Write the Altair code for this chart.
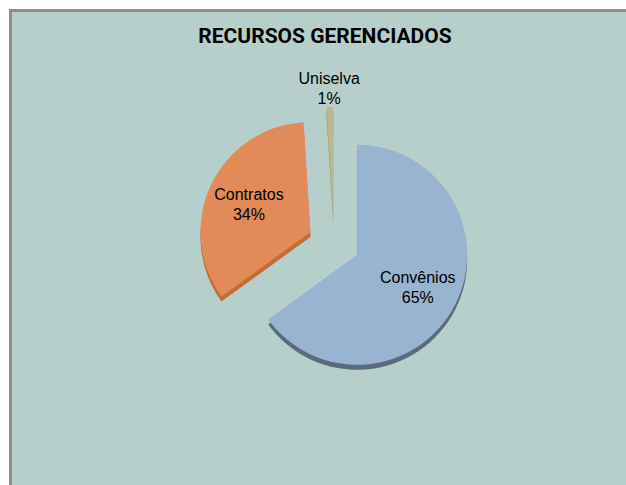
import altair as alt
import pandas as pd

# ---- data ----
categorias = ["Convênios", "Contratos", "Uniselva"]
valores = [65, 34, 1]

# ---- style ----
cores = ["#98b4d1", "#e28b58", "#bab88f"]
cores_lado = ["#5a6b80", "#c46c38", "#8f8d68"]
FUNDO = "#b6cfca"
BORDA = "#8e8e8e"
W, H = 626, 485
CX, CY = 334, 243      # pie centre (px)
R = 110                # pie radius
EXPLODE = 26           # explosion distance
DEPTH = 5              # 3D side thickness
LAB_IN = 68
LAB_OUT = R + 20

df = pd.DataFrame({"categoria": categorias, "valor": valores})

base = (
    alt.Chart(df)
    .transform_window(idx="row_number()")
    .transform_joinaggregate(total="sum(valor)")
    .transform_window(cum="sum(valor)", sort=[alt.SortField("idx")], frame=[None, 0])
    .transform_calculate(
        t1="2*PI*datum.cum/datum.total",
        t0="2*PI*(datum.cum-datum.valor)/datum.total",
    )
    .transform_calculate(mid="(datum.t0+datum.t1)/2")
    .transform_calculate(
        cx=f"{CX}+{EXPLODE}*sin(datum.mid)",
        cy=f"{CY}-{EXPLODE}*cos(datum.mid)",
    )
    .transform_calculate(
        cys=f"datum.cy+{DEPTH}",
        lr=f"datum.valor/datum.total < 0.05 ? {LAB_OUT} : {LAB_IN}",
        rotulo="datum.categoria + '\\n' + datum.valor + '%'",
    )
    .transform_calculate(
        lx="datum.cx + datum.lr*sin(datum.mid)",
        ly="datum.cy - datum.lr*cos(datum.mid)",
    )
)

fundo = alt.Chart(pd.DataFrame({"k": [0]})).mark_rect(
    fill=FUNDO, stroke=BORDA, strokeWidth=3, clip=True
).encode(
    x=alt.value(10.5), x2=alt.value(W + 20),
    y=alt.value(10.5), y2=alt.value(H + 20),
)

lado = base.mark_arc(radius=R, stroke=None).encode(
    x=alt.X("cx:Q", scale=None, axis=None),
    y=alt.Y("cys:Q", scale=None, axis=None),
    theta=alt.Theta("t0:Q", scale=None),
    theta2="t1:Q",
    color=alt.Color("categoria:N", scale=alt.Scale(domain=categorias, range=cores_lado), legend=None),
)

topo = base.mark_arc(radius=R, stroke=None).encode(
    x=alt.X("cx:Q", scale=None, axis=None),
    y=alt.Y("cy:Q", scale=None, axis=None),
    theta=alt.Theta("t0:Q", scale=None),
    theta2="t1:Q",
    fill=alt.Fill("categoria:N", scale=alt.Scale(domain=categorias, range=cores), legend=None),
)

rotulos = base.mark_text(
    lineBreak="\n", fontSize=16, font="Liberation Sans, Arial, sans-serif",
    color="#000000", align="center", baseline="middle", lineHeight=20, dy=-8,
).encode(
    x=alt.X("lx:Q", scale=None, axis=None),
    y=alt.Y("ly:Q", scale=None, axis=None),
    text="rotulo:N",
)

titulo = alt.Chart(pd.DataFrame({"t": ["RECURSOS GERENCIADOS"]})).mark_text(
    fontSize=21, fontWeight="bold",
    font="Roboto, Liberation Sans, sans-serif",
    align="center", baseline="alphabetic", color="#000000",
).encode(
    x=alt.value(325), y=alt.value(43), text="t:N",
)

chart = (
    alt.layer(fundo, lado, topo, rotulos, titulo)
    .resolve_scale(color="independent", fill="independent")
    .properties(width=W, height=H, autosize=alt.AutoSizeParams(type="none"), padding=0)
    .configure(background="#ffffff")
    .configure_view(stroke=None)
)

chart.save("out.html", embed_options={"renderer": "svg", "actions": False})
